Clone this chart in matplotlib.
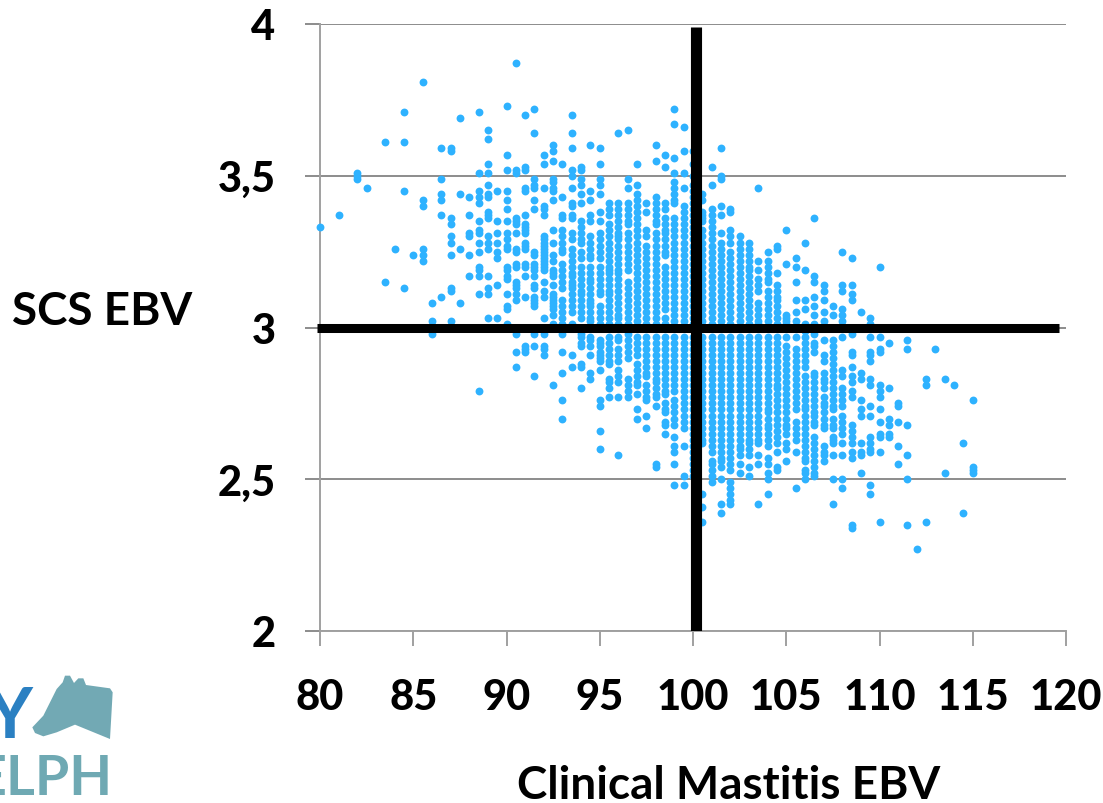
#!/usr/bin/env python3

import numpy as np
import matplotlib
import matplotlib.pyplot as plt
from matplotlib.patches import Polygon
matplotlib.use('Agg')

plt.rcParams['font.family'] = ['Lato', 'DejaVu Sans']

# SCS EBV values, in hundredths, one list per Clinical Mastitis EBV column
col_80 = [333]
col_81 = [337]
col_82 = [351, 350, 349]
col_82_5 = [346]
col_83_5 = [361, 315]
col_84 = [326]
col_84_5 = [371, 361, 345, 313]
col_85 = [324]
col_85_5 = [381, 342, 340, 326, 324, 322]
col_86 = [308, 302, 298]
col_86_5 = [359, 349, 344, 342, 337, 310]
col_87 = [359, 358, 336, 334, 330, 328, 324, 313, 312, 302]
col_87_5 = [369, 344, 326, 308]
col_88 = [343, 337, 331, 330, 324, 317]
col_88_5 = [371, 351, 345, 343, 341, 335, 332, 331, 328, 325, 320, 319, 317, 311, 279]
col_89 = [365, 362, 354, 351, 347, 344, 343, 338, 337, 336, 330, 328, 326, 317, 313, 311, 303]
col_89_5 = [345, 335, 331, 328, 325, 323, 314, 303]
col_90 = [373, 357, 352, 345, 342, 339, 335, 331, 329, 327, 326, 320, 319, 317, 316, 311, 307, 306, 301]
col_90_5 = [387, 352, 351, 336, 335, 334, 331, 326, 325, 321, 320, 315, 314, 313, 311, 309, 298, 292, 287]
col_91 = [370, 353, 352, 346, 345, 337, 334, 333, 332, 331, 328, 327, 326, 321, 320, 317, 310,
          294, 293, 292]
col_91_5 = [372, 364, 349, 347, 346, 342, 339, 325, 324, 321, 320, 319, 317, 314, 313, 310, 309,
            308, 307, 298, 294, 284]
col_92 = [357, 354, 346, 340, 339, 337, 330, 329, 328, 327, 326, 325, 324, 323, 322, 321, 320,
          319, 315, 312, 310, 303, 298, 294, 293, 291]
col_92_5 = [360, 358, 355, 349, 348, 346, 345, 342, 332, 328, 324, 322, 319, 318, 317, 314, 311,
            310, 309, 308, 307, 306, 304, 301, 281]
col_93 = [354, 343, 337, 336, 332, 330, 328, 326, 325, 321, 319, 317, 315, 313, 309, 307, 305,
          303, 301, 298, 292, 285, 276, 270]
col_93_5 = [370, 364, 359, 352, 350, 346, 341, 340, 337, 336, 331, 329, 326, 324, 322, 320, 318,
            317, 315, 314, 313, 311, 309, 307, 305, 301, 291, 287]
col_94 = [353, 352, 349, 347, 344, 341, 335, 333, 331, 329, 328, 325, 323, 320, 318, 316, 314,
          312, 311, 309, 307, 305, 303, 298, 297, 295, 294, 288, 287, 280]
col_94_5 = [360, 345, 342, 337, 335, 330, 328, 326, 324, 323, 320, 318, 316, 315, 313, 311, 309,
            308, 307, 305, 303, 302, 297, 296, 294, 291, 285, 283]
col_95 = [359, 354, 349, 347, 344, 338, 335, 331, 329, 327, 325, 323, 320, 318, 316, 314, 312,
          311, 307, 305, 303, 301, 296, 295, 294, 292, 291, 290, 289, 286, 276, 274, 266, 260]
col_95_5 = [341, 339, 337, 334, 332, 330, 328, 326, 324, 322, 320, 319, 318, 316, 314, 312, 311,
            309, 307, 305, 303, 301, 297, 295, 293, 291, 289, 288, 283, 282, 280, 277]
col_96 = [364, 341, 339, 337, 335, 333, 331, 330, 329, 327, 325, 323, 321, 319, 318, 316, 314,
          312, 310, 308, 306, 304, 303, 301, 297, 296, 293, 291, 289, 286, 284, 282, 277, 258]
col_96_5 = [365, 349, 346, 341, 339, 337, 335, 334, 331, 329, 327, 325, 323, 321, 319, 315, 313,
            311, 309, 307, 305, 303, 301, 298, 296, 294, 292, 290, 283, 281, 279, 277]
col_97 = [354, 347, 344, 342, 340, 338, 336, 334, 332, 330, 328, 326, 324, 322, 320, 318, 316,
          314, 312, 310, 308, 306, 304, 302, 300, 297, 295, 293, 291, 288, 286, 284, 282, 281, 278,
          273, 270]
col_97_5 = [341, 338, 332, 330, 327, 325, 323, 321, 319, 317, 315, 313, 311, 309, 307, 305, 303,
            301, 297, 295, 293, 291, 289, 287, 285, 284, 281, 279, 277, 276, 271, 267]
col_98 = [360, 355, 343, 341, 339, 337, 335, 334, 331, 329, 327, 325, 323, 321, 319, 317, 315,
          313, 311, 309, 307, 305, 303, 301, 297, 295, 293, 291, 289, 287, 285, 283, 282, 280, 278,
          277, 274, 255, 254]
col_98_5 = [357, 353, 341, 339, 336, 334, 332, 331, 329, 327, 325, 324, 320, 318, 316, 314, 312,
            310, 308, 306, 303, 301, 297, 295, 293, 291, 289, 287, 285, 283, 281, 279, 278, 275,
            273, 272, 269, 268, 265]
col_99 = [372, 367, 356, 351, 348, 346, 344, 342, 341, 336, 334, 332, 330, 328, 326, 324, 322,
          320, 318, 316, 314, 312, 310, 308, 306, 304, 302, 297, 295, 293, 291, 289, 287, 285, 283,
          281, 279, 276, 274, 272, 270, 268, 264, 261, 259, 255, 248]
col_99_5 = [366, 358, 351, 346, 340, 338, 336, 334, 332, 330, 328, 326, 324, 322, 320, 318, 316,
            314, 312, 310, 308, 306, 304, 302, 297, 295, 293, 291, 289, 287, 285, 283, 281, 279,
            277, 275, 273, 271, 269, 267, 261, 251, 248]
col_100 = [358, 354, 350, 347, 345, 343, 341, 339, 337, 335, 333, 331, 329, 327, 325, 323, 321,
           319, 317, 315, 313, 311, 309, 307, 305, 303, 301, 297, 295, 293, 291, 289, 287, 285, 283,
           281, 279, 277, 275, 273, 271, 269, 267, 265, 263, 261, 259, 257, 255, 253, 251]
col_100_5 = [344, 342, 338, 337, 336, 335, 332, 330, 328, 326, 324, 322, 320, 318, 316, 314, 312,
             310, 308, 306, 304, 302, 297, 295, 293, 291, 289, 287, 285, 283, 281, 279, 277, 275,
             273, 271, 269, 267, 265, 263, 262, 245, 241, 236]
col_101 = [353, 347, 339, 337, 335, 333, 331, 329, 327, 325, 323, 321, 319, 317, 315, 313, 311,
           309, 307, 305, 303, 301, 297, 295, 293, 291, 289, 287, 285, 283, 281, 279, 277, 275, 273,
           271, 269, 267, 265, 263, 261, 259, 256, 255, 253, 251, 249]
col_101_5 = [359, 350, 349, 340, 337, 331, 328, 326, 324, 322, 320, 318, 316, 314, 312, 310, 308,
             306, 304, 302, 297, 295, 293, 291, 289, 287, 285, 283, 281, 279, 277, 275, 273, 271,
             269, 267, 265, 263, 261, 259, 257, 256, 254, 250, 242, 239]
col_102 = [339, 338, 332, 330, 328, 325, 323, 321, 319, 317, 315, 313, 311, 309, 307, 305, 303,
           301, 297, 295, 293, 291, 289, 287, 285, 283, 281, 279, 277, 275, 273, 271, 269, 267, 265,
           263, 261, 259, 257, 255, 253, 249, 247, 245, 243, 242]
col_102_5 = [330, 328, 326, 324, 322, 320, 318, 316, 314, 312, 310, 308, 306, 304, 302, 297, 295,
             293, 291, 289, 287, 285, 283, 281, 279, 277, 275, 273, 271, 269, 267, 265, 263, 261,
             260, 258, 255, 252]
col_103 = [328, 326, 324, 322, 320, 319, 317, 315, 313, 311, 309, 307, 305, 303, 301, 297, 295,
           293, 291, 289, 287, 285, 283, 281, 279, 277, 275, 273, 271, 269, 267, 265, 263, 262, 260,
           258, 254, 251]
col_103_5 = [346, 322, 319, 316, 314, 312, 308, 306, 304, 302, 301, 297, 295, 293, 291, 289, 287,
             285, 283, 281, 279, 277, 275, 273, 271, 269, 267, 265, 263, 262, 258, 255, 242]
col_104 = [325, 322, 320, 318, 316, 315, 312, 310, 308, 306, 304, 302, 297, 295, 293, 291, 289,
           287, 285, 283, 281, 279, 277, 275, 273, 272, 270, 268, 267, 265, 263, 261, 257, 255, 252,
           250, 245]
col_104_5 = [327, 326, 318, 314, 312, 310, 309, 307, 305, 303, 301, 297, 295, 293, 291, 289, 287,
             285, 283, 281, 280, 278, 276, 274, 272, 270, 268, 266, 264, 262, 259, 254, 253]
col_105 = [332, 321, 304, 303, 302, 301, 297, 294, 292, 290, 288, 286, 284, 282, 280, 278, 276,
           274, 272, 270, 268, 267, 265, 262, 260, 256]
col_105_5 = [323, 320, 315, 309, 305, 302, 297, 293, 291, 289, 287, 285, 283, 281, 279, 277, 275,
             273, 269, 267, 265, 263, 259, 247]
col_106 = [328, 319, 309, 306, 301, 299, 297, 295, 293, 291, 289, 287, 284, 282, 280, 278, 276,
           274, 273, 271, 269, 267, 265, 263, 261, 259, 257, 256, 253, 252, 250]
col_106_5 = [336, 317, 315, 310, 307, 304, 301, 298, 295, 294, 292, 285, 284, 282, 280, 278, 276,
             274, 272, 271, 269, 268, 264, 262, 260, 258, 256, 254, 252, 251]
col_107 = [314, 312, 309, 305, 302, 296, 291, 289, 285, 283, 282, 280, 277, 275, 274, 272, 270,
           268, 267, 261, 259, 258, 256]
col_107_5 = [307, 304, 296, 294, 292, 290, 288, 286, 284, 282, 280, 278, 276, 274, 273, 270, 268,
             267, 264, 263, 262, 258, 250, 242]
col_108 = [325, 314, 312, 306, 304, 302, 297, 286, 284, 280, 278, 276, 274, 271, 269, 267, 265,
           262, 258, 250, 247]
col_108_5 = [323, 314, 311, 309, 298, 292, 291, 287, 284, 282, 279, 277, 268, 266, 264, 262, 259,
             257, 235, 234]
col_109 = [305, 285, 283, 276, 273, 271, 262, 259, 258, 252]
col_109_5 = [303, 301, 297, 292, 291, 289, 283, 281, 274, 271, 264, 262, 260, 259, 248, 245]
col_110 = [320, 297, 293, 292, 281, 279, 277, 273, 269, 265, 264, 259, 236]
col_110_5 = [295, 280, 270, 268, 265, 264]
col_111 = [275, 274, 269, 261, 255]
col_111_5 = [296, 293, 268, 258, 250, 235]
col_112 = [227]
col_112_5 = [283, 281, 236]
col_113 = [293]
col_113_5 = [283, 252]
col_114 = [281]
col_114_5 = [262, 239]
col_115 = [276, 254, 253, 252]

mastitis = [80, 81, 82, 82.5, 83.5, 84, 84.5, 85, 85.5, 86, 86.5, 87, 87.5, 88, 88.5, 89, 89.5, 90,
            90.5, 91, 91.5, 92, 92.5, 93, 93.5, 94, 94.5, 95, 95.5, 96, 96.5, 97, 97.5, 98, 98.5,
            99, 99.5, 100, 100.5, 101, 101.5, 102, 102.5, 103, 103.5, 104, 104.5, 105, 105.5, 106,
            106.5, 107, 107.5, 108, 108.5, 109, 109.5, 110, 110.5, 111, 111.5, 112, 112.5, 113,
            113.5, 114, 114.5, 115]
scs = [col_80, col_81, col_82, col_82_5, col_83_5, col_84, col_84_5, col_85, col_85_5, col_86,
       col_86_5, col_87, col_87_5, col_88, col_88_5, col_89, col_89_5, col_90, col_90_5, col_91,
       col_91_5, col_92, col_92_5, col_93, col_93_5, col_94, col_94_5, col_95, col_95_5, col_96,
       col_96_5, col_97, col_97_5, col_98, col_98_5, col_99, col_99_5, col_100, col_100_5, col_101,
       col_101_5, col_102, col_102_5, col_103, col_103_5, col_104, col_104_5, col_105, col_105_5,
       col_106, col_106_5, col_107, col_107_5, col_108, col_108_5, col_109, col_109_5, col_110,
       col_110_5, col_111, col_111_5, col_112, col_112_5, col_113, col_113_5, col_114, col_114_5,
       col_115]

x_ticks = [80, 85, 90, 95, 100, 105, 110, 115, 120]
y_ticks = [2, 2.5, 3, 3.5, 4]
y_labels = ['2', '2,5', '3', '3,5', '4']

W, H = 1103, 804
fig = plt.figure(figsize=(W / 100, H / 100), dpi=100)
ax = fig.add_axes([320 / W, 1 - 632 / H, 746 / W, 607 / H])

xs = np.concatenate([[x] * len(c) for x, c in zip(mastitis, scs)])
ys = np.concatenate(scs) / 100
ax.scatter(xs, ys, s=32, color='#2eb2ff', linewidths=0, clip_on=False, zorder=3)

ax.set_xlim(80, 120)
ax.set_ylim(2, 4)
ax.set_xticks(x_ticks)
ax.set_yticks(y_ticks)
ax.set_yticklabels(y_labels)
ax.grid(axis='y', color='#8c8c8c', lw=1.4)
ax.set_axisbelow(True)
for s in ['top', 'right']:
    ax.spines[s].set_visible(False)
for s in ['left', 'bottom']:
    ax.spines[s].set_color('#a0a0a0')
    ax.spines[s].set_linewidth(1.4)
ax.tick_params(axis='y', length=11, width=1.4, color='#8c8c8c', pad=21, labelsize=30)
ax.tick_params(axis='x', length=11, width=1.4, color='#a0a0a0', pad=23, labelsize=30)
for t in ax.get_xticklabels() + ax.get_yticklabels():
    t.set_fontweight(900)

# the two thick black cross lines
ax.plot([100.15, 100.15], [2, 3.99], color='black', lw=8, solid_capstyle='butt', zorder=4)
ax.plot([79.85, 119.6], [3, 3], color='black', lw=6.5, solid_capstyle='butt', zorder=4,
        clip_on=False)

fig.text(102 / W, 1 - 325 / H, 'SCS EBV', fontsize=33, fontweight='bold', ha='center', va='baseline')
fig.text(729 / W, 1 - 799 / H, 'Clinical Mastitis EBV', fontsize=33, fontweight='bold',
         ha='center', va='baseline')

# logo in the bottom left corner, cut off by the edge
fig.text(32 / W, 1 - 738 / H, 'Y', fontsize=51, fontweight='bold', color='#2b80c2',
         ha='right', va='baseline')
fig.text(113 / W, 1 - 795 / H, 'ELPH', fontsize=40, fontweight='bold', color='#6fa9b3',
         ha='right', va='baseline')
cow = [(97, 205), (130, 170), (170, 90), (188, 70), (195, 50), (210, 50), (222, 72), (235, 58),
       (250, 58), (258, 78), (330, 88), (338, 100), (330, 240), (225, 197), (170, 220), (130, 232),
       (105, 222)]
cow = [((zx / 3) / W, 1 - (660 + zy / 3) / H) for zx, zy in cow]
fig.add_artist(Polygon(cow, closed=True, color='#72a9b4', lw=0, transform=fig.transFigure))

plt.savefig('out.png', dpi=100)
plt.close()
